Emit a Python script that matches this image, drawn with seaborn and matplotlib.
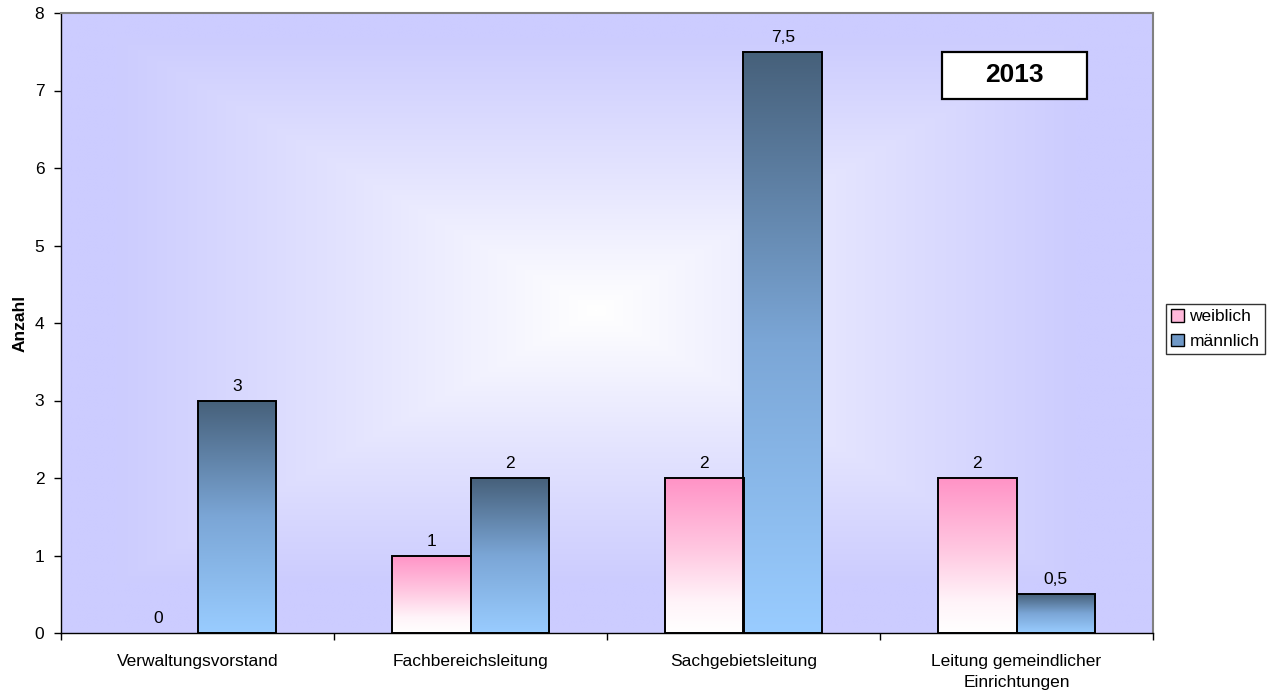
import numpy as np
import pandas as pd
import matplotlib
matplotlib.use("Agg")
import matplotlib.pyplot as plt
import seaborn as sns
from matplotlib.colors import LinearSegmentedColormap
from matplotlib.patches import Patch, Rectangle

categories = ["Verwaltungsvorstand", "Fachbereichsleitung", "Sachgebietsleitung",
              "Leitung gemeindlicher\nEinrichtungen"]
series = ["weiblich", "männlich"]
weiblich = [0, 1, 2, 2]
maennlich = [3, 2, 7.5, 0.5]
y_ticks = [0, 1, 2, 3, 4, 5, 6, 7, 8]
title_box = "2013"
y_label = "Anzahl"

df = pd.DataFrame({
    "Kategorie": categories * 2,
    "Geschlecht": [series[0]] * 4 + [series[1]] * 4,
    "Anzahl": weiblich + maennlich,
})

sns.set_style("white")
plt.rcParams["font.family"] = ["Liberation Sans", "DejaVu Sans"]
plt.rcParams["text.color"] = "black"
plt.rcParams["axes.labelcolor"] = "black"
plt.rcParams["xtick.color"] = "black"
plt.rcParams["ytick.color"] = "black"
FS = 12.5

fig = plt.figure(figsize=(12.8, 6.95), dpi=100)
ax = fig.add_axes([61 / 1280, 1 - 633 / 695, (1153 - 61) / 1280, (633 - 13) / 695])

sns.barplot(data=df, x="Kategorie", y="Anzahl", hue="Geschlecht",
            order=categories, hue_order=series, width=0.575,
            palette=["#FFB3D9", "#6A8FB8"], edgecolor="black", linewidth=1.4,
            legend=False, ax=ax, zorder=3)

# background: rectangular gradient from centre
n = 600
xx, yy = np.meshgrid(np.linspace(-1, 1, n), np.linspace(-1, 1, n))
d = np.maximum(np.abs(xx + 0.02), np.abs(yy - 0.04))
t = np.clip(d / 0.88, 0, 1)
bg_cmap = LinearSegmentedColormap.from_list("bg", ["#FFFFFF", "#E4E4FE", "#CCCCFF"])
ax.imshow(t, cmap=bg_cmap, extent=(0, 1, 0, 1), transform=ax.transAxes, origin="lower",
          aspect="auto", zorder=0, vmin=0, vmax=1, interpolation="bilinear")

grads = [
    LinearSegmentedColormap.from_list("w", [(0, "#FFFFFF"), (0.2, "#FFF4F9"), (0.55, "#FFC6E0"), (1, "#FF93C6")]),
    LinearSegmentedColormap.from_list("m", ["#99CCFF", "#7BA6D6", "#46607A"]),
]
grad = np.linspace(0, 1, 256).reshape(-1, 1)
for ci, cont in enumerate(ax.containers):
    vals = weiblich if ci == 0 else maennlich
    for bar, v in zip(cont, vals):
        x0 = bar.get_x()
        w = bar.get_width()
        h = bar.get_height()
        if h <= 0:
            bar.set_visible(False)
        else:
            bar.set_facecolor("none")
            im = ax.imshow(grad, cmap=grads[ci], origin="lower", aspect="auto",
                           extent=(x0, x0 + w, 0, h), zorder=2, interpolation="bilinear")
            im.set_clip_path(bar)
        lab = ("%g" % v).replace(".", ",")
        ax.annotate(lab, (x0 + w / 2, h), xytext=(0, 5), textcoords="offset points",
                    ha="center", va="bottom", fontsize=FS, color="black", zorder=5)

ax.set_xlim(-0.5, 3.5)
ax.set_ylim(0, 8)

# axes styling
for s in ["left", "bottom"]:
    ax.spines[s].set_color("black")
    ax.spines[s].set_linewidth(1.0)
for s in ["top", "right"]:
    ax.spines[s].set_color("#808080")
    ax.spines[s].set_linewidth(1.5)

ax.set_yticks(y_ticks)
ax.set_yticklabels([str(v) for v in y_ticks], fontsize=FS)
ax.tick_params(axis="y", direction="out", length=5, width=1, color="black", left=True, pad=7)
ax.set_xticks(range(len(categories)))
ax.set_xticklabels(categories, fontsize=FS, linespacing=1.5)
ax.tick_params(axis="x", which="major", length=0, pad=15)
ax.set_xticks([-0.5, 0.5, 1.5, 2.5, 3.5], minor=True)
ax.tick_params(axis="x", which="minor", direction="out", length=5, width=1, color="black", bottom=True)
ax.set_xlabel("")
ax.set_ylabel(y_label, fontsize=FS, fontweight="bold", labelpad=5)

# year box
bx0, bx1 = (942 - 61) / 1092, (1087 - 61) / 1092
by0, by1 = 1 - (99 - 13) / 620, 1 - (52 - 13) / 620
ax.add_patch(Rectangle((bx0, by0), bx1 - bx0, by1 - by0, transform=ax.transAxes,
                       facecolor="white", edgecolor="black", linewidth=1.6, zorder=6))
ax.text((bx0 + bx1) / 2, (by0 + by1) / 2, title_box, transform=ax.transAxes,
        ha="center", va="center", fontsize=19, fontweight="bold", zorder=7)

# legend
handles = [Patch(facecolor="#FFB8DA", edgecolor="black", linewidth=1.0),
           Patch(facecolor="#6F98C6", edgecolor="black", linewidth=1.0)]
leg = fig.legend(handles, series, loc="center left", bbox_to_anchor=(1166 / 1280, 1 - 329 / 695),
                 fontsize=FS, frameon=True, fancybox=False, handlelength=0.75, handleheight=0.75,
                 handletextpad=0.3, borderpad=0.3, labelspacing=0.55, borderaxespad=0)
leg.get_frame().set_edgecolor("black")
leg.get_frame().set_linewidth(1.0)

fig.savefig("out.png", dpi=100, facecolor="white")
